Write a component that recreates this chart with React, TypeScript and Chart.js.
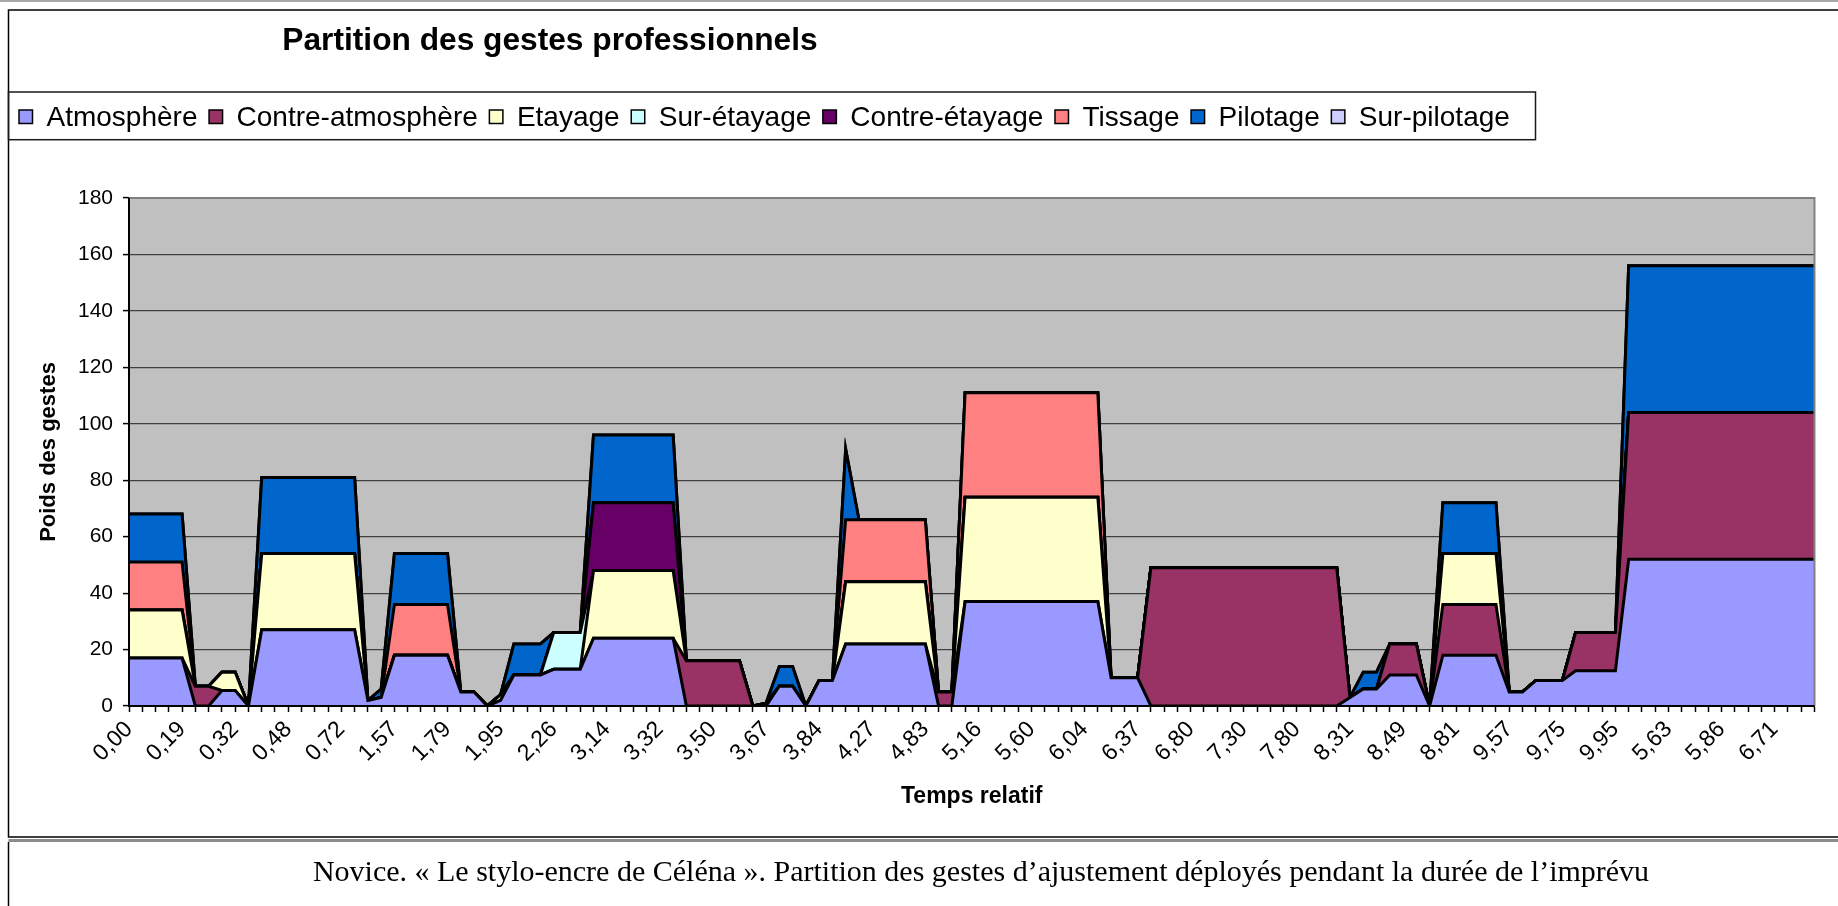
import React, { useEffect, useRef } from 'react';
import { Chart, registerables } from 'chart.js';

Chart.register(...registerables);

const W = 1838;
const H = 906;

const SANS = '"Liberation Sans", Arial, sans-serif';
const SERIF = '"Liberation Serif", "Times New Roman", serif';

const titleText = 'Partition des gestes professionnels';
const captionText =
  'Novice. « Le stylo-encre de Céléna ». Partition des gestes d’ajustement déployés pendant la durée de l’imprévu';
const xTitle = 'Temps relatif';
const yTitle = 'Poids des gestes';

// one label every 4 categories
const tickLabels = [
  '0,00', '0,19', '0,32', '0,48', '0,72', '1,57', '1,79', '1,95', '2,26', '3,14', '3,32',
  '3,50', '3,67', '3,84', '4,27', '4,83', '5,16', '5,60', '6,04', '6,37', '6,80', '7,30',
  '7,80', '8,31', '8,49', '8,81', '9,57', '9,75', '9,95', '5,63', '5,86', '6,71',
];

const seriesNames = [
  'Atmosphère', 'Contre-atmosphère', 'Etayage', 'Sur-étayage',
  'Contre-étayage', 'Tissage', 'Pilotage', 'Sur-pilotage',
];
const seriesColors = [
  '#9999FF', '#993366', '#FFFFCC', '#CCFFFF', '#660066', '#FF8080', '#0066CC', '#CCCCFF',
];

const atmosphere = [
  17, 17, 17, 17, 17, 0, 0, 5.5, 5.5, 0,
  27, 27, 27, 27, 27, 27, 27, 27, 2, 3,
  18, 18, 18, 18, 18, 5, 5, 0, 2, 11,
  11, 11, 13, 13, 13, 24, 24, 24, 24, 24,
  24, 24, 0, 0, 0, 0, 0, 0, 0, 7,
  7, 0, 9, 9, 22, 22, 22, 22, 22, 22,
  22, 0, 0, 37, 37, 37, 37, 37, 37, 37,
  37, 37, 37, 37, 10, 10, 10, 0, 0, 0,
  0, 0, 0, 0, 0, 0, 0, 0, 0, 0,
  0, 0, 3, 6, 6, 11, 11, 11, 0, 18,
  18, 18, 18, 18, 5, 5, 9, 9, 9, 12.5,
  12.5, 12.5, 12.5, 52, 52, 52, 52, 52, 52, 52,
  52, 52, 52, 52, 52, 52, 52, 52,
];
const contreAtmosphere = [
  0, 0, 0, 0, 0, 7, 7, 0, 0, 0,
  0, 0, 0, 0, 0, 0, 0, 0, 0, 0,
  0, 0, 0, 0, 0, 0, 0, 0, 0, 0,
  0, 0, 0, 0, 0, 0, 0, 0, 0, 0,
  0, 0, 16, 16, 16, 16, 16, 0, 0, 0,
  0, 0, 0, 0, 0, 0, 0, 0, 0, 0,
  0, 5, 5, 0, 0, 0, 0, 0, 0, 0,
  0, 0, 0, 0, 0, 0, 0, 49, 49, 49,
  49, 49, 49, 49, 49, 49, 49, 49, 49, 49,
  49, 49, 0, 0, 0, 11, 11, 11, 0, 18,
  18, 18, 18, 18, 0, 0, 0, 0, 0, 13.5,
  13.5, 13.5, 13.5, 52, 52, 52, 52, 52, 52, 52,
  52, 52, 52, 52, 52, 52, 52, 52,
];
const etayage = [
  17, 17, 17, 17, 17, 0, 0, 6.5, 6.5, 0,
  27, 27, 27, 27, 27, 27, 27, 27, 0, 0,
  0, 0, 0, 0, 0, 0, 0, 0, 2, 0,
  0, 0, 0, 0, 0, 24, 24, 24, 24, 24,
  24, 24, 0, 0, 0, 0, 0, 0, 0, 0,
  0, 0, 0, 0, 22, 22, 22, 22, 22, 22,
  22, 0, 0, 37, 37, 37, 37, 37, 37, 37,
  37, 37, 37, 37, 0, 0, 0, 0, 0, 0,
  0, 0, 0, 0, 0, 0, 0, 0, 0, 0,
  0, 0, 0, 0, 0, 0, 0, 0, 0, 18,
  18, 18, 18, 18, 0, 0, 0, 0, 0, 0,
  0, 0, 0, 0, 0, 0, 0, 0, 0, 0,
  0, 0, 0, 0, 0, 0, 0, 0,
];
const surEtayage = [
  0, 0, 0, 0, 0, 0, 0, 0, 0, 0,
  0, 0, 0, 0, 0, 0, 0, 0, 0, 0,
  0, 0, 0, 0, 0, 0, 0, 0, 0, 0,
  0, 0, 13, 13, 13, 0, 0, 0, 0, 0,
  0, 0, 0, 0, 0, 0, 0, 0, 0, 0,
  0, 0, 0, 0, 0, 0, 0, 0, 0, 0,
  0, 0, 0, 0, 0, 0, 0, 0, 0, 0,
  0, 0, 0, 0, 0, 0, 0, 0, 0, 0,
  0, 0, 0, 0, 0, 0, 0, 0, 0, 0,
  0, 0, 0, 0, 0, 0, 0, 0, 0, 0,
  0, 0, 0, 0, 0, 0, 0, 0, 0, 0,
  0, 0, 0, 0, 0, 0, 0, 0, 0, 0,
  0, 0, 0, 0, 0, 0, 0, 0,
];
const contreEtayage = [
  0, 0, 0, 0, 0, 0, 0, 0, 0, 0,
  0, 0, 0, 0, 0, 0, 0, 0, 0, 0,
  0, 0, 0, 0, 0, 0, 0, 0, 0, 0,
  0, 0, 0, 0, 0, 24, 24, 24, 24, 24,
  24, 24, 0, 0, 0, 0, 0, 0, 1, 0,
  0, 0, 0, 0, 0, 0, 0, 0, 0, 0,
  0, 0, 0, 0, 0, 0, 0, 0, 0, 0,
  0, 0, 0, 0, 0, 0, 0, 0, 0, 0,
  0, 0, 0, 0, 0, 0, 0, 0, 0, 0,
  0, 0, 0, 0, 0, 0, 0, 0, 0, 0,
  0, 0, 0, 0, 0, 0, 0, 0, 0, 0,
  0, 0, 0, 0, 0, 0, 0, 0, 0, 0,
  0, 0, 0, 0, 0, 0, 0, 0,
];
const tissage = [
  17, 17, 17, 17, 17, 0, 0, 0, 0, 0,
  0, 0, 0, 0, 0, 0, 0, 0, 0, 0,
  18, 18, 18, 18, 18, 0, 0, 0, 0, 0,
  0, 0, 0, 0, 0, 0, 0, 0, 0, 0,
  0, 0, 0, 0, 0, 0, 0, 0, 0, 0,
  0, 0, 0, 0, 22, 22, 22, 22, 22, 22,
  22, 0, 0, 37, 37, 37, 37, 37, 37, 37,
  37, 37, 37, 37, 0, 0, 0, 0, 0, 0,
  0, 0, 0, 0, 0, 0, 0, 0, 0, 0,
  0, 0, 0, 0, 0, 0, 0, 0, 0, 0,
  0, 0, 0, 0, 0, 0, 0, 0, 0, 0,
  0, 0, 0, 0, 0, 0, 0, 0, 0, 0,
  0, 0, 0, 0, 0, 0, 0, 0,
];
const pilotage = [
  17, 17, 17, 17, 17, 0, 0, 0, 0, 0,
  27, 27, 27, 27, 27, 27, 27, 27, 0, 3,
  18, 18, 18, 18, 18, 0, 0, 0, 0, 11,
  11, 11, 0, 0, 0, 24, 24, 24, 24, 24,
  24, 24, 0, 0, 0, 0, 0, 0, 0, 7,
  7, 0, 0, 0, 25, 0, 0, 0, 0, 0,
  0, 0, 0, 0, 0, 0, 0, 0, 0, 0,
  0, 0, 0, 0, 0, 0, 0, 0, 0, 0,
  0, 0, 0, 0, 0, 0, 0, 0, 0, 0,
  0, 0, 0, 6, 6, 0, 0, 0, 0, 18,
  18, 18, 18, 18, 0, 0, 0, 0, 0, 0,
  0, 0, 0, 52, 52, 52, 52, 52, 52, 52,
  52, 52, 52, 52, 52, 52, 52, 52,
];
const surPilotage = [
  0, 0, 0, 0, 0, 0, 0, 0, 0, 0,
  0, 0, 0, 0, 0, 0, 0, 0, 0, 0,
  0, 0, 0, 0, 0, 0, 0, 0, 0, 0,
  0, 0, 0, 0, 0, 0, 0, 0, 0, 0,
  0, 0, 0, 0, 0, 0, 0, 0, 0, 0,
  0, 0, 0, 0, 0, 0, 0, 0, 0, 0,
  0, 0, 0, 0, 0, 0, 0, 0, 0, 0,
  0, 0, 0, 0, 0, 0, 0, 0, 0, 0,
  0, 0, 0, 0, 0, 0, 0, 0, 0, 0,
  0, 0, 0, 0, 0, 0, 0, 0, 0, 0,
  0, 0, 0, 0, 0, 0, 0, 0, 0, 0,
  0, 0, 0, 0, 0, 0, 0, 0, 0, 0,
  0, 0, 0, 0, 0, 0, 0, 0,
];

const seriesValues = [
  atmosphere, contreAtmosphere, etayage, surEtayage,
  contreEtayage, tissage, pilotage, surPilotage,
];

// category axis: each label followed by three unlabeled categories
const categories: string[] = [];
tickLabels.forEach((l) => {
  categories.push(l, '', '', '');
});

const decorPlugin = {
  id: 'decor',
  beforeDraw(chart: any) {
    const { ctx, chartArea: a } = chart;
    ctx.save();
    ctx.fillStyle = '#FFFFFF';
    ctx.fillRect(0, 0, chart.width, chart.height);
    ctx.fillStyle = '#C0C0C0';
    ctx.fillRect(a.left, a.top, a.right - a.left, a.bottom - a.top);
    ctx.restore();
  },
  afterDatasetsDraw(chart: any) {
    const { ctx, chartArea: a } = chart;
    ctx.save();
    ctx.strokeStyle = '#808080';
    ctx.lineWidth = 2;
    ctx.beginPath();
    ctx.moveTo(a.left, a.top);
    ctx.lineTo(a.right, a.top);
    ctx.lineTo(a.right, a.bottom);
    ctx.stroke();
    ctx.strokeStyle = '#000000';
    ctx.lineWidth = 2;
    ctx.beginPath();
    ctx.moveTo(a.left, a.top);
    ctx.lineTo(a.left, a.bottom);
    ctx.lineTo(a.right, a.bottom);
    ctx.stroke();
    ctx.restore();
  },
  afterDraw(chart: any) {
    const { ctx } = chart;
    ctx.save();
    // page/table lines
    ctx.strokeStyle = '#A8A8A8';
    ctx.lineWidth = 2;
    ctx.beginPath();
    ctx.moveTo(0, 1);
    ctx.lineTo(W, 1);
    ctx.stroke();

    // chart frame
    ctx.strokeStyle = '#000000';
    ctx.lineWidth = 1.5;
    ctx.strokeRect(8.5, 10, W + 10, 827);

    // caption cell
    ctx.strokeStyle = '#8C8C8C';
    ctx.lineWidth = 3;
    ctx.beginPath();
    ctx.moveTo(8.5, 840.5);
    ctx.lineTo(W, 840.5);
    ctx.stroke();
    ctx.strokeStyle = '#000000';
    ctx.lineWidth = 1.5;
    ctx.beginPath();
    ctx.moveTo(8.5, 842);
    ctx.lineTo(8.5, H);
    ctx.stroke();

    // title
    ctx.fillStyle = '#000000';
    ctx.textBaseline = 'alphabetic';
    ctx.font = `bold 31.7px ${SANS}`;
    ctx.textAlign = 'center';
    ctx.fillText(titleText, 550, 50);

    // legend
    ctx.font = `28px ${SANS}`;
    ctx.textAlign = 'left';
    let x = 19;
    chart.data.datasets.forEach((ds: any) => {
      ctx.fillStyle = ds.backgroundColor;
      ctx.fillRect(x, 110, 13.5, 13.5);
      ctx.strokeStyle = '#000000';
      ctx.lineWidth = 1.5;
      ctx.strokeRect(x, 110, 13.5, 13.5);
      ctx.fillStyle = '#000000';
      const tx = x + 27.5;
      ctx.fillText(ds.label, tx, 125.7);
      x = tx + ctx.measureText(ds.label).width + 11.6;
    });
    const legendRight = Math.max(x - 11.6 + 19, 1535.5);
    ctx.strokeStyle = '#1A1A1A';
    ctx.lineWidth = 1.5;
    ctx.strokeRect(8.5, 92, legendRight - 8.5, 139.7 - 92);

    // caption
    ctx.fillStyle = '#000000';
    ctx.font = `30px ${SERIF}`;
    ctx.textAlign = 'center';
    ctx.fillText(captionText, 981, 881);
    ctx.restore();
  },
};

export default function App() {
  const canvasRef = useRef<HTMLCanvasElement | null>(null);

  useEffect(() => {
    const canvas = canvasRef.current;
    if (!canvas) return;
    const chart = new Chart(canvas, {
      type: 'line',
      data: {
        labels: categories,
        datasets: seriesNames.map((name, i) => ({
          label: name,
          data: seriesValues[i],
          backgroundColor: seriesColors[i],
          borderColor: '#000000',
          borderWidth: 3,
          fill: i === 0 ? 'origin' : '-1',
          pointRadius: 0,
          pointHoverRadius: 0,
          tension: 0,
        })),
      },
      options: {
        responsive: false,
        animation: false,
        devicePixelRatio: 1,
        events: [],
        layout: { padding: { left: 35.8, top: 198, right: 3, bottom: 95.2 } },
        plugins: {
          legend: { display: false },
          title: { display: false },
          tooltip: { enabled: false },
        },
        scales: {
          x: {
            type: 'category',
            offset: false,
            grid: {
              display: true,
              drawOnChartArea: false,
              drawTicks: true,
              tickLength: 6,
              tickColor: '#000000',
              tickWidth: 1.5,
            },
            border: { display: true, color: '#000000', width: 2 },
            ticks: {
              autoSkip: false,
              maxRotation: 45,
              minRotation: 45,
              padding: 4,
              color: '#000000',
              font: { family: SANS, size: 23 },
            },
            title: {
              display: true,
              text: xTitle,
              color: '#000000',
              padding: 0,
              font: { family: SANS, size: 23, weight: 'bold' },
            },
            afterFit: (s: any) => {
              s.height = 104.8;
            },
          },
          y: {
            stacked: true,
            min: 0,
            max: 180,
            ticks: {
              stepSize: 20,
              padding: 10,
              color: '#000000',
              font: { family: SANS, size: 21 },
            },
            grid: {
              color: '#404040',
              lineWidth: 1.2,
              tickColor: '#000000',
              tickWidth: 1.5,
              tickLength: 6,
            },
            border: { display: true, color: '#000000', width: 2 },
            title: {
              display: true,
              text: yTitle,
              color: '#000000',
              padding: 0,
              font: { family: SANS, size: 22, weight: 'bold' },
            },
            afterFit: (s: any) => {
              s.width = 93.2;
            },
          },
        },
      } as any,
      plugins: [decorPlugin],
    });
    return () => chart.destroy();
  }, []);

  return (
    <div
      style={{
        position: 'fixed',
        left: 0,
        top: 0,
        width: W,
        height: H,
        background: '#FFFFFF',
        overflow: 'hidden',
      }}
    >
      <canvas ref={canvasRef} width={W} height={H} style={{ display: 'block' }} />
    </div>
  );
}
